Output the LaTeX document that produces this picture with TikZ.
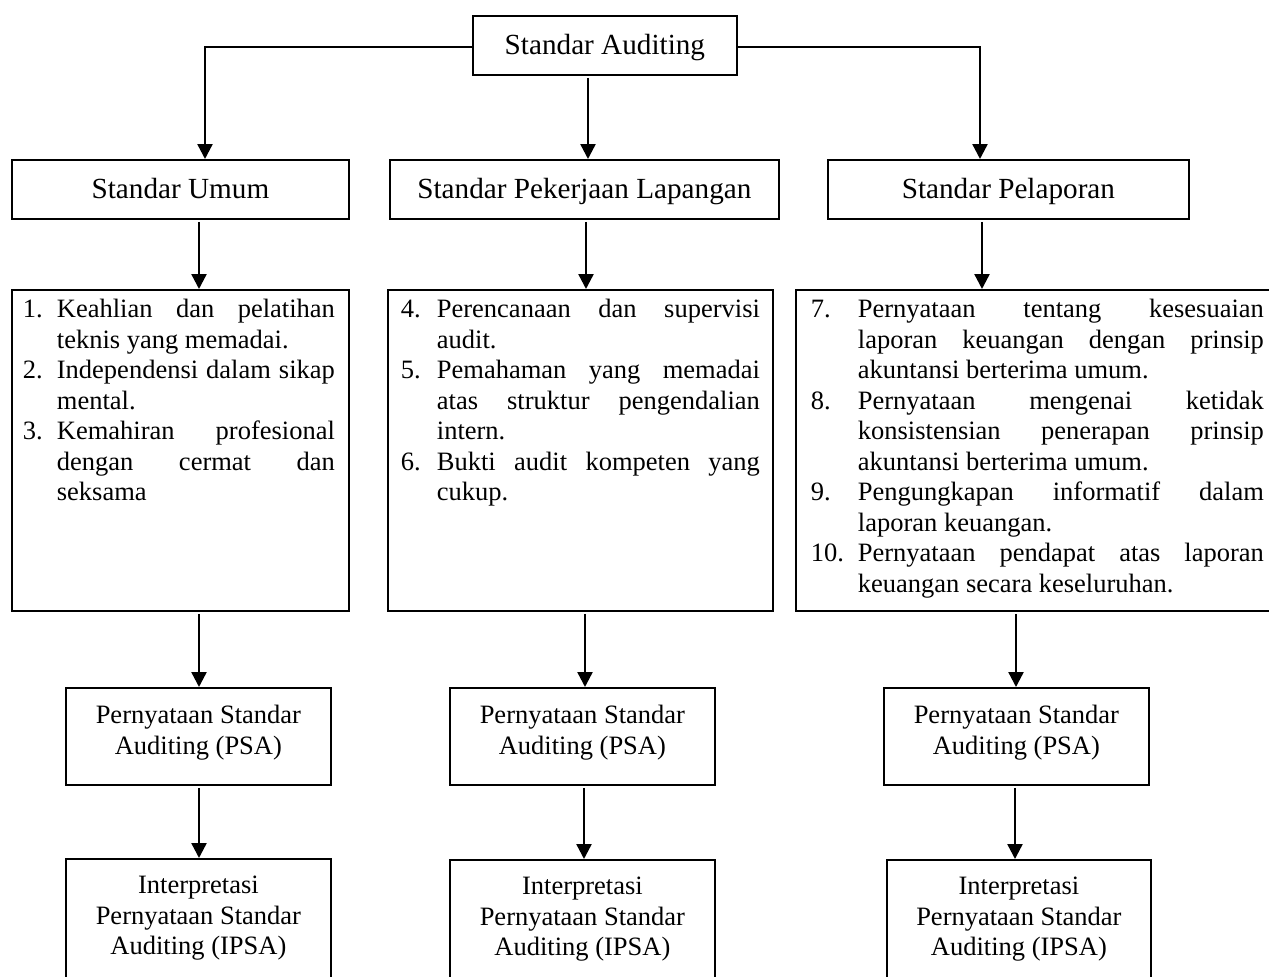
\documentclass[tikz,border=0pt]{standalone}
\usepackage{fontspec}
\setmainfont{Liberation Serif}
\usetikzlibrary{arrows.meta}
\setlength\parindent{0pt}
\setlength\parskip{0pt}
\newcommand\bodyf{\fontsize{26.5pt}{30.5pt}\selectfont}
\newcommand\headf{\fontsize{29.2pt}{30.5pt}\selectfont}
\newcommand\st{\rule[-9.15pt]{0pt}{30.5pt}}
\newcommand\bx[4]{\begin{minipage}[c][#2pt][t]{#1pt}\vspace*{#3pt}#4\end{minipage}}
\newcommand\ctr[1]{{\centering #1\par}}
\newlength\padL \newlength\numW \newlength\padR
\newcommand\Li[2]{\hbox to \linewidth{\hskip\padL\hbox to \numW{\st#1\hfil}#2\hskip\padR}}
\tikzset{
  box/.style={draw, line width=1.8pt, inner sep=0pt, anchor=north west},
  arr/.style={line width=2.4pt, -{Triangle[length=15pt,width=15pt]}},
}
\begin{document}
\begin{tikzpicture}[x=1pt, y=-1pt]
\useasboundingbox (0,0) rectangle (1269,977);
\fill[white] (0,0) rectangle (1269,977);
\clip (0,0) rectangle (1269,977);

% top
\node[box] (top) at (472,15) {\bx{264}{59}{17.65}{\ctr{\headf\st Standar Auditing}}};
% row 2
\node[box] (umum) at (11,159) {\bx{337}{59}{17.15}{\ctr{\headf\st Standar Umum}}};
\node[box] (lap) at (389,159) {\bx{389}{59}{17.15}{\ctr{\headf\st Standar Pekerjaan Lapangan}}};
\node[box] (pel) at (827,159) {\bx{361}{59}{17.15}{\ctr{\headf\st Standar Pelaporan}}};
% row 3
\node[box] (b1) at (11,289) {\bx{337}{321}{6.65}{\bodyf
  \setlength\padL{11pt}\setlength\numW{34pt}\setlength\padR{14pt}%
  \Li{1.}{Keahlian\hfill dan\hfill pelatihan}
  \Li{}{teknis yang memadai.\hfill}
  \Li{2.}{Independensi\hfill dalam\hfill sikap}
  \Li{}{mental.\hfill}
  \Li{3.}{Kemahiran\hfill profesional}
  \Li{}{dengan\hfill cermat\hfill dan}
  \Li{}{seksama\hfill}}};
\node[box] (b2) at (387,289) {\bx{385}{321}{6.65}{\bodyf
  \setlength\padL{13pt}\setlength\numW{36pt}\setlength\padR{13pt}%
  \Li{4.}{Perencanaan\hfill dan\hfill supervisi}
  \Li{}{audit.\hfill}
  \Li{5.}{Pemahaman\hfill yang\hfill memadai}
  \Li{}{atas\hfill struktur\hfill pengendalian}
  \Li{}{intern.\hfill}
  \Li{6.}{Bukti\hfill audit\hfill kompeten\hfill yang}
  \Li{}{cukup.\hfill}}};
\node[box] (b3) at (795,289) {\bx{482}{321}{6.65}{\bodyf
  \setlength\padL{15pt}\setlength\numW{47pt}\setlength\padR{14pt}%
  \Li{7.}{Pernyataan\hfill tentang\hfill kesesuaian}
  \Li{}{laporan\hfill keuangan\hfill dengan\hfill prinsip}
  \Li{}{akuntansi berterima umum.\hfill}
  \Li{8.}{Pernyataan\hfill mengenai\hfill ketidak}
  \Li{}{konsistensian\hfill penerapan\hfill prinsip}
  \Li{}{akuntansi berterima umum.\hfill}
  \Li{9.}{Pengungkapan\hfill informatif\hfill dalam}
  \Li{}{laporan keuangan.\hfill}
  \Li{10.}{Pernyataan\hfill pendapat\hfill atas\hfill laporan}
  \Li{}{keuangan secara keseluruhan.\hfill}}};
% row 4
\node[box] (p1) at (65,687) {\bx{265}{97}{14.5}{\ctr{\bodyf\st Pernyataan Standar\\\st Auditing (PSA)}}};
\node[box] (p2) at (449,687) {\bx{265}{97}{14.5}{\ctr{\bodyf\st Pernyataan Standar\\\st Auditing (PSA)}}};
\node[box] (p3) at (883,687) {\bx{265}{97}{14.5}{\ctr{\bodyf\st Pernyataan Standar\\\st Auditing (PSA)}}};
% row 5
\node[box] (i1) at (65,858) {\bx{265}{160}{13.5}{\ctr{\bodyf\st Interpretasi\\\st Pernyataan Standar\\\st Auditing (IPSA)}}};
\node[box] (i2) at (449,859) {\bx{265}{160}{13.5}{\ctr{\bodyf\st Interpretasi\\\st Pernyataan Standar\\\st Auditing (IPSA)}}};
\node[box] (i3) at (886,859) {\bx{264}{160}{13.5}{\ctr{\bodyf\st Interpretasi\\\st Pernyataan Standar\\\st Auditing (IPSA)}}};

% connector columns
\coordinate (hl) at (205,47);
\coordinate (hr) at (980,47);
\coordinate (cm) at (588,0);
\coordinate (c1) at (199,0);
\coordinate (c2) at (586,0);
\coordinate (c3) at (982,0);
\coordinate (d2) at (585,0);
\coordinate (d3) at (1016,0);
\coordinate (e2) at (584,0);
\coordinate (e3) at (1015,0);

\draw[arr] (top.west |- hl) -- (hl) -- (umum.north -| hl);
\draw[arr] (top.east |- hr) -- (hr) -- (pel.north -| hr);
\draw[arr, shorten <=2pt] (top.south -| cm) -- (lap.north -| cm);

\draw[arr, shorten <=2pt] (umum.south -| c1) -- (b1.north -| c1);
\draw[arr, shorten <=2pt] (lap.south -| c2) -- (b2.north -| c2);
\draw[arr, shorten <=2pt] (pel.south -| c3) -- (b3.north -| c3);

\draw[arr, shorten <=2pt] (b1.south -| c1) -- (p1.north -| c1);
\draw[arr, shorten <=2pt] (b2.south -| d2) -- (p2.north -| d2);
\draw[arr, shorten <=2pt] (b3.south -| d3) -- (p3.north -| d3);

\draw[arr, shorten <=2pt] (p1.south -| c1) -- (i1.north -| c1);
\draw[arr, shorten <=2pt] (p2.south -| e2) -- (i2.north -| e2);
\draw[arr, shorten <=2pt] (p3.south -| e3) -- (i3.north -| e3);
\end{tikzpicture}
\end{document}
